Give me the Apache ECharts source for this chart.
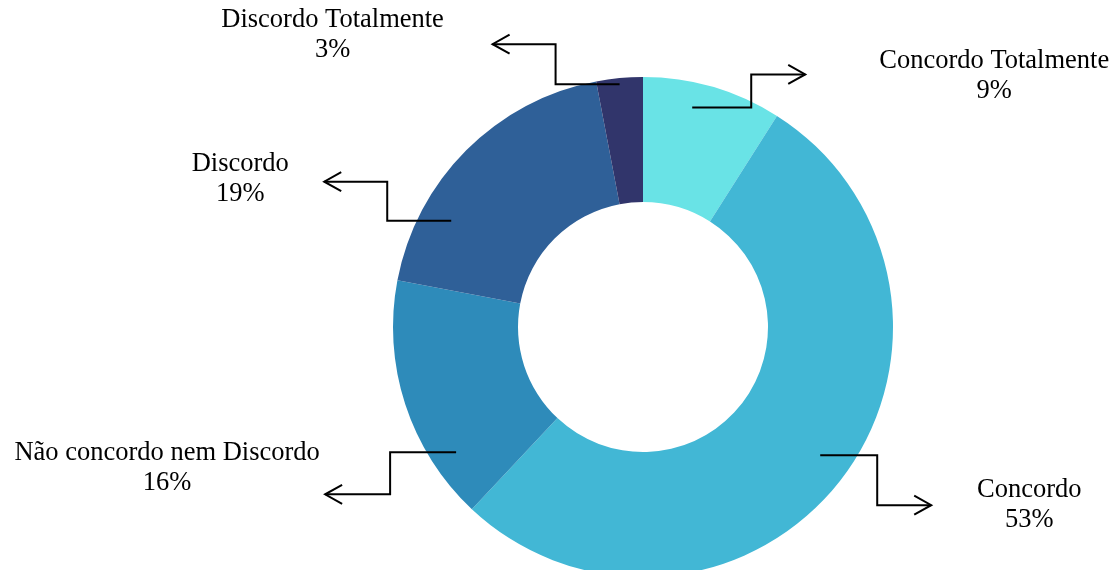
<!DOCTYPE html>
<html>
<head>
<meta charset="utf-8">
<script src="https://cdn.jsdelivr.net/npm/echarts@6/dist/echarts.min.js"></script>
<style>
  html, body { margin: 0; padding: 0; background: #ffffff; }
  #chart { width: 1120px; height: 570px; }
</style>
</head>
<body>
<div id="chart"></div>
<script>
// Survey answers, clockwise from 12 o'clock
const categories = ['Concordo Totalmente', 'Concordo', 'Não concordo nem Discordo', 'Discordo', 'Discordo Totalmente'];
const shares = [9, 53, 16, 19, 3];
const sliceColors = ['#69E3E6', '#42B7D5', '#2E8BBA', '#2F6098', '#31356B'];

// Callouts: the leader starts inside each slice (fraction of its sweep and of the outer radius),
// then runs horizontally, vertically and horizontally again to an arrow tip; the label sits
// at an offset from that tip.
const callouts = [
  { at: 0.39,  rad: 0.90,  run1: 59,  rise: -33, run2: 54,  label: [189, 2] },
  { at: 0.49,  rad: 0.875, run1: 57,  rise: 50,  run2: 54,  label: [98, 0] },
  { at: 0.225, rad: 0.90,  run1: -66, rise: 42,  run2: -65, label: [-158, -26] },
  { at: 0.266, rad: 0.877, run1: -64, rise: -39, run2: -63, label: [-84, -3] },
  { at: 0.49,  rad: 0.976, run1: -64, rise: -40, run2: -63, label: [-160, -9] }
];

const chart = echarts.init(document.getElementById('chart'), null, { renderer: 'canvas' });

chart.setOption({
  animation: false,
  backgroundColor: '#ffffff',
  series: [{
    type: 'pie',
    center: [643, 327],
    radius: [125, 250],
    startAngle: 90,
    clockwise: true,
    silent: true,
    label: { show: false },
    labelLine: { show: false },
    emphasis: { disabled: true },
    data: categories.map((name, i) => ({
      name: name,
      value: shares[i],
      itemStyle: { color: sliceColors[i], borderWidth: 0 }
    }))
  }]
});

// Leader lines with open arrowheads and the two-line labels, placed from the pie's own layout
const pieData = chart.getModel().getSeriesByIndex(0).getData();
const annotations = [];
pieData.each(function (idx) {
  const lay = pieData.getItemLayout(idx);
  const c = callouts[idx];
  const a = lay.startAngle + c.at * (lay.endAngle - lay.startAngle);
  const rr = lay.r * c.rad;
  const x0 = lay.cx + rr * Math.cos(a);
  const y0 = lay.cy + rr * Math.sin(a);
  const x1 = x0 + c.run1;
  const y1 = y0 + c.rise;
  const x2 = x1 + c.run2;
  const dir = Math.sign(c.run2);
  const lineStyle = { stroke: '#000000', lineWidth: 2, fill: null };
  annotations.push({
    type: 'polyline', z: 100, silent: true,
    shape: { points: [[x0, y0], [x1, y0], [x1, y1], [x2, y1]] },
    style: lineStyle
  });
  annotations.push({
    type: 'polyline', z: 100, silent: true,
    shape: { points: [[x2 - dir * 17, y1 - 9.5], [x2, y1], [x2 - dir * 17, y1 + 9.5]] },
    style: lineStyle
  });
  annotations.push({
    type: 'text', z: 100, silent: true,
    x: x2 + c.label[0],
    y: y1 + c.label[1],
    style: {
      text: pieData.getName(idx) + '\n' + pieData.get('value', idx) + '%',
      fontFamily: '"Liberation Serif", "Times New Roman", serif',
      fontSize: 26.5,
      lineHeight: 30,
      fill: '#000000',
      align: 'center',
      verticalAlign: 'middle'
    }
  });
});
chart.setOption({ graphic: annotations });
</script>
</body>
</html>
